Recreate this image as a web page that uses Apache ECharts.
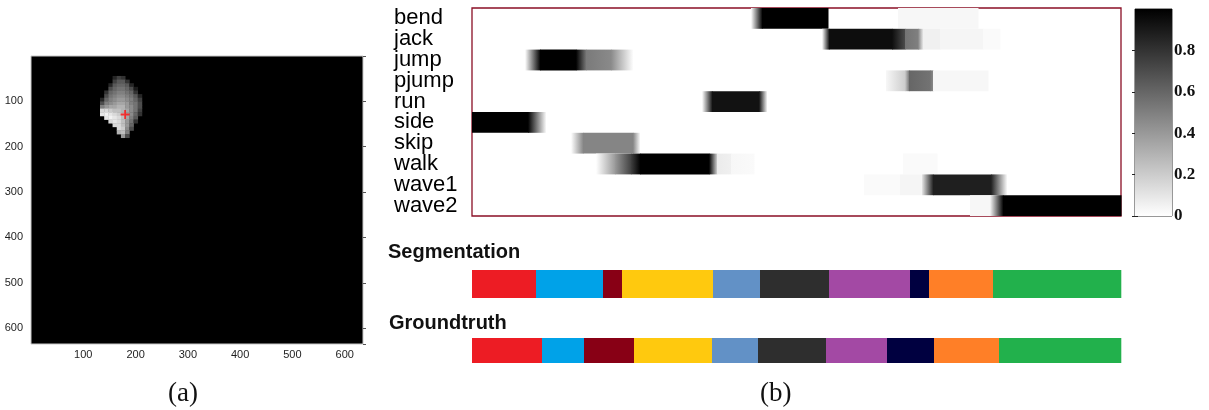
<!DOCTYPE html>
<html><head><meta charset="utf-8">
<script src="https://cdn.jsdelivr.net/npm/echarts@6/dist/echarts.min.js"></script>
<style>html,body{margin:0;padding:0;background:#fff}#c{width:1209px;height:410px}</style>
</head><body><div id="c"></div>
<script>
// ---------- (a) image panel ----------
const imgTicks = [100, 200, 300, 400, 500, 600];
const imgExtent = [0, 635];
const blobX0 = 136, blobY0 = 48, blobCell = 8;
const blobRows = [
  [0,0,0,0.15,0.25,0.2,0,0,0,0,0],
  [0,0,0,0.25,0.35,0.35,0.2,0,0,0,0],
  [0,0,0.15,0.35,0.4,0.4,0.35,0.15,0,0,0],
  [0,0,0.3,0.4,0.45,0.45,0.4,0.3,0.1,0,0],
  [0,0.2,0.4,0.45,0.5,0.5,0.45,0.4,0.2,0,0],
  [0,0.3,0.45,0.5,0.55,0.55,0.5,0.45,0.35,0.15,0],
  [0.15,0.4,0.5,0.55,0.6,0.6,0.55,0.5,0.4,0.25,0],
  [0.3,0.5,0.55,0.6,0.65,0.65,0.6,0.5,0.45,0.3,0],
  [0.5,0.6,0.65,0.65,0.7,0.7,0.6,0.55,0.45,0.3,0],
  [0.85,0.85,0.8,0.75,0.75,0.7,0.65,0.55,0.45,0.25,0],
  [0.9,0.95,0.9,0.85,0.8,0.75,0.65,0.55,0.4,0.2,0],
  [0,0.9,0.95,0.9,0.85,0.75,0.65,0.5,0.35,0,0],
  [0,0,0.85,0.9,0.85,0.75,0.6,0.45,0.2,0,0],
  [0,0,0,0.85,0.85,0.75,0.6,0.4,0,0,0],
  [0,0,0,0,0.85,0.8,0.55,0.3,0,0,0],
  [0,0,0,0,0.7,0.75,0.5,0,0,0,0],
  [0,0,0,0,0,0.6,0.3,0,0,0,0]
];
const markerPoint = [180, 129];

// ---------- (b) class probabilities over frames ----------
const actions = ['bend', 'jack', 'jump', 'pjump', 'run', 'side', 'skip', 'walk', 'wave1', 'wave2'];
const totalFrames = 649;
// runs: [startFrame, endFrame, probStart, probEnd]
const bend  = [[279,290,0,1],[290,356,1,1],[426,506,0.03,0.03]];
const jack  = [[350,357,0,0.95],[357,420,0.95,0.95],[420,433,0.95,0.7],[433,446,0.55,0.5],[446,451,0.5,0.06],[451,468,0.06,0.06],[468,511,0.04,0.04],[511,528,0.02,0.02]];
const jump  = [[53,68,0,1],[68,104,1,1],[104,114,1,0.52],[114,139,0.52,0.46],[139,161,0.46,0]];
const pjump = [[414,433,0.03,0.2],[433,437,0.2,0.55],[437,458,0.6,0.55],[458,461,0.55,0.45],[461,516,0.03,0.03]];
const run   = [[230,240,0,0.93],[240,287,0.93,0.93],[287,295,0.93,0]];
const side  = [[0,56,1,1],[56,74,1,0]];
const skip  = [[99,111,0,0.48],[111,161,0.48,0.48],[161,168,0.48,0]];
const walk  = [[124,143,0,0.4],[143,159,0.4,0.75],[159,168,0.75,1],[168,237,1,1],[237,245,1,0.15],[245,259,0.08,0.06],[259,282,0.03,0.02],[431,465,0.02,0.02]];
const wave1 = [[392,428,0.02,0.02],[428,450,0.04,0.04],[450,461,0.1,0.88],[461,519,0.88,0.88],[519,535,0.88,0]];
const wave2 = [[498,518,0.03,0.03],[518,531,0.03,1],[531,649,1,1]];
const rowRuns = [bend, jack, jump, pjump, run, side, skip, walk, wave1, wave2];
const colorbarTicks = [0, 0.2, 0.4, 0.6, 0.8];

// segmentation vs groundtruth (segment order in time, and frame boundaries)
const segOrder = ['side', 'jump', 'skip', 'walk', 'run', 'bend', 'jack', 'pjump', 'wave1', 'wave2'];
const segBounds = [0, 64, 131, 150, 241, 288, 357, 438, 457, 521, 649];
const gtBounds  = [0, 70, 112, 162, 240, 286, 354, 415, 462, 527, 649];
const actionColors = {
  side: '#ED1C24', jump: '#00A2E8', skip: '#880015', walk: '#FFC90E', run: '#6291C6',
  bend: '#2E2E2E', jack: '#A349A4', pjump: '#000040', wave1: '#FF7F27', wave2: '#22B14C'
};

// ---------- build ----------
const blobData = [];
blobRows.forEach((row, r) => row.forEach((v, c) => {
  if (v > 0) blobData.push([blobX0 + c * blobCell, blobY0 + r * blobCell, v]);
}));
const runData = [];
rowRuns.forEach((runs, r) => runs.forEach(u => runData.push([u[0], u[1], r, u[2], u[3]])));
const segData = segOrder.map((a, i) => [segBounds[i], segBounds[i + 1], i]);
const gtData = segOrder.map((a, i) => [gtBounds[i], gtBounds[i + 1], i]);

function grayInv(v) { const g = Math.round(255 * (1 - v)); return 'rgb(' + g + ',' + g + ',' + g + ')'; }
function grayDir(v) { const g = Math.round(255 * v); return 'rgb(' + g + ',' + g + ',' + g + ')'; }

const chart = echarts.init(document.getElementById('c'), null, { renderer: 'canvas' });
const sansAxis = { fontFamily: 'Liberation Sans', fontSize: 11, color: '#1e1e1e' };
const cbLabel = v => { const r = Math.round(v * 10) / 10; return colorbarTicks.indexOf(r) >= 0 ? String(r) : ''; };

const option = {
  animation: false,
  backgroundColor: '#fff',
  title: [
    { text: 'Segmentation', left: 388, top: 242, padding: 0, textStyle: { fontFamily: 'Liberation Sans', fontWeight: 'bold', fontSize: 20, color: '#111' } },
    { text: 'Groundtruth', left: 389, top: 313, padding: 0, textStyle: { fontFamily: 'Liberation Sans', fontWeight: 'bold', fontSize: 20, color: '#111' } },
    { text: '(a)', left: 168, top: 380, padding: 0, textStyle: { fontFamily: 'Liberation Serif', fontWeight: 'normal', fontSize: 27, color: '#111' } },
    { text: '(b)', left: 760, top: 380, padding: 0, textStyle: { fontFamily: 'Liberation Serif', fontWeight: 'normal', fontSize: 27, color: '#111' } }
  ],
  grid: [
    { left: 31, top: 56, width: 332, height: 288, show: true, backgroundColor: '#000', borderColor: '#c8c8c8', borderWidth: 1, outerBoundsMode: 'none' },
    { left: 472, top: 8, width: 649, height: 208, show: true, backgroundColor: '#fff', borderColor: '#8a0f26', borderWidth: 1.3, outerBoundsMode: 'none' },
    { left: 1135, top: 9, width: 37, height: 207, show: true, borderColor: '#333', borderWidth: 1, outerBoundsMode: 'none' },
    { left: 472, top: 270, width: 649, height: 28, outerBoundsMode: 'none' },
    { left: 472, top: 338, width: 649, height: 25, outerBoundsMode: 'none' }
  ],
  xAxis: [
    { gridIndex: 0, type: 'value', min: imgExtent[0], max: imgExtent[1], interval: 100,
      axisLine: { show: false }, axisTick: { show: false }, splitLine: { show: false },
      axisLabel: Object.assign({ margin: 5, showMaxLabel: false, formatter: v => imgTicks.indexOf(v) >= 0 ? String(v) : '' }, sansAxis) },
    { gridIndex: 1, type: 'value', min: 0, max: totalFrames, show: false },
    { gridIndex: 2, type: 'value', min: 0, max: 1, show: false },
    { gridIndex: 3, type: 'value', min: 0, max: totalFrames, show: false },
    { gridIndex: 4, type: 'value', min: 0, max: totalFrames, show: false }
  ],
  yAxis: [
    { gridIndex: 0, type: 'value', inverse: true, min: imgExtent[0], max: imgExtent[1], interval: 100,
      axisLine: { show: false }, axisTick: { show: false }, splitLine: { show: false },
      axisLabel: Object.assign({ margin: 8, showMaxLabel: false, formatter: v => imgTicks.indexOf(v) >= 0 ? String(v) : '' }, sansAxis) },
    { gridIndex: 0, type: 'value', inverse: true, position: 'right', min: imgExtent[0], max: imgExtent[1], interval: 100,
      axisLine: { show: false }, splitLine: { show: false }, axisLabel: { show: false },
      axisTick: { show: true, length: 3, inside: false, lineStyle: { color: '#555' } } },
    { gridIndex: 1, type: 'category', data: actions, inverse: true,
      axisLine: { show: false }, axisTick: { show: false }, splitLine: { show: false },
      axisLabel: { interval: 0, align: 'left', margin: 78, fontFamily: 'Liberation Sans', fontSize: 22, color: '#000' } },
    { gridIndex: 2, type: 'value', min: 0, max: 1, interval: 0.2, position: 'right',
      axisLine: { show: false }, splitLine: { show: false },
      axisTick: { show: true, inside: true, length: 3, lineStyle: { color: '#222' } },
      axisLabel: { margin: 2, showMaxLabel: false, formatter: cbLabel,
        fontFamily: 'Liberation Serif', fontWeight: 'bold', fontSize: 17, color: '#111' } },
    { gridIndex: 3, type: 'value', min: 0, max: 1, show: false },
    { gridIndex: 4, type: 'value', min: 0, max: 1, show: false },
    { gridIndex: 2, type: 'value', min: 0, max: 1, interval: 0.2, position: 'left',
      axisLine: { show: false }, splitLine: { show: false }, axisLabel: { show: false },
      axisTick: { show: true, inside: true, length: 3, lineStyle: { color: '#222' } } }
  ],
  series: [
    { type: 'custom', xAxisIndex: 0, yAxisIndex: 0, data: blobData, encode: { x: 0, y: 1 },
      renderItem: (p, api) => {
        const x = api.value(0), y = api.value(1), v = api.value(2);
        const a = api.coord([x - blobCell / 2, y - blobCell / 2]);
        const b = api.coord([x + blobCell / 2, y + blobCell / 2]);
        return { type: 'rect', shape: { x: Math.min(a[0], b[0]), y: Math.min(a[1], b[1]), width: Math.abs(b[0] - a[0]) + 0.4, height: Math.abs(b[1] - a[1]) + 0.4 }, style: { fill: grayDir(v) } };
      } },
    { type: 'scatter', xAxisIndex: 0, yAxisIndex: 0, data: [markerPoint], symbol: 'path://M4,0h2v4h4v2h-4v4h-2v-4h-4v-2h4z', symbolSize: 9,
      itemStyle: { color: '#ff1010' }, silent: true },
    { type: 'custom', xAxisIndex: 1, yAxisIndex: 2, data: runData, encode: { x: [0, 1], y: 2 },
      renderItem: (p, api) => {
        const s = api.value(0), e = api.value(1), r = api.value(2), v0 = api.value(3), v1 = api.value(4);
        const a = api.coord([s, r]), b = api.coord([e, r]);
        const h = api.size([0, 1])[1];
        const fill = (v0 === v1) ? grayInv(v0) : new echarts.graphic.LinearGradient(0, 0, 1, 0, [{ offset: 0, color: grayInv(v0) }, { offset: 1, color: grayInv(v1) }]);
        return { type: 'rect', shape: { x: a[0], y: a[1] - h / 2, width: b[0] - a[0] + 0.5, height: h }, style: { fill: fill } };
      } },
    { type: 'custom', xAxisIndex: 2, yAxisIndex: 3, data: [[0, 1]], encode: { y: [0, 1] },
      renderItem: (p, api) => {
        const a = api.coord([0, api.value(1)]), b = api.coord([1, api.value(0)]);
        return { type: 'rect', shape: { x: a[0], y: a[1], width: b[0] - a[0], height: b[1] - a[1] },
          style: { fill: new echarts.graphic.LinearGradient(0, 0, 0, 1, [{ offset: 0, color: '#000' }, { offset: 1, color: '#fff' }]) } };
      } },
    { type: 'custom', xAxisIndex: 3, yAxisIndex: 4, data: segData, encode: { x: [0, 1] },
      renderItem: (p, api) => {
        const a = api.coord([api.value(0), 1]), b = api.coord([api.value(1), 0]);
        return { type: 'rect', shape: { x: a[0], y: a[1], width: b[0] - a[0] + 0.3, height: b[1] - a[1] }, style: { fill: actionColors[segOrder[api.value(2)]] } };
      } },
    { type: 'custom', xAxisIndex: 4, yAxisIndex: 5, data: gtData, encode: { x: [0, 1] },
      renderItem: (p, api) => {
        const a = api.coord([api.value(0), 1]), b = api.coord([api.value(1), 0]);
        return { type: 'rect', shape: { x: a[0], y: a[1], width: b[0] - a[0] + 0.3, height: b[1] - a[1] }, style: { fill: actionColors[segOrder[api.value(2)]] } };
      } }
  ]
};
chart.setOption(option);
</script>
</body></html>
